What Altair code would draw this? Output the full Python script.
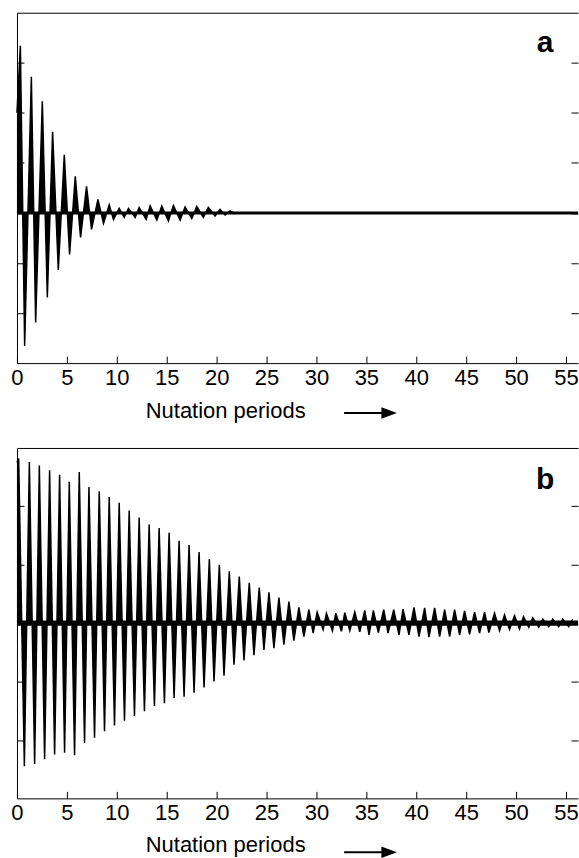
import altair as alt
import pandas as pd

# ---------------- data ----------------
X_TICKS = [0, 5, 10, 15, 20, 25, 30, 35, 40, 45, 50, 55]
X_MAX = 56.2

# panel a : extremes of the decaying oscillation (nutation periods, amplitude)
a_pos_t = [0.0, 0.34, 1.44, 2.54, 3.57, 4.74, 5.84, 6.97, 8.11, 9.24, 10.24, 11.17,
           12.24, 13.34, 14.51, 15.67, 16.84, 18.01, 19.17, 20.34, 21.34]
a_pos_v = [2.0, 3.34, 2.72, 2.23, 1.62, 1.16, 0.73, 0.53, 0.27, 0.16, 0.09, 0.09,
           0.11, 0.14, 0.14, 0.15, 0.12, 0.13, 0.11, 0.07, 0.04]
a_neg_t = [0.77, 1.87, 3.04, 4.14, 5.27, 6.37, 7.47, 8.67, 9.67, 10.74, 11.84, 12.94,
           14.01, 15.17, 16.34, 17.51, 18.67, 19.84, 20.84, 21.9]
a_neg_v = [-2.66, -2.19, -1.69, -1.14, -0.83, -0.49, -0.33, -0.21, -0.13, -0.09, -0.09, -0.13,
           -0.14, -0.16, -0.14, -0.11, -0.09, -0.06, -0.04, -0.02]
a_y_ticks = [-2, -1, 0, 1, 2, 3]
a_band = 0.03          # half thickness of the flat trace (amplitude units)

# panel b
b_pos_t = [0.0, 0.17, 1.24, 2.24, 3.27, 4.27, 5.24, 6.24, 7.21, 8.24, 9.24, 10.24, 11.24,
           12.24, 13.24, 14.24, 15.24, 16.24, 17.24, 18.24, 19.27, 20.27, 21.27, 22.27,
           23.27, 24.27, 25.24, 26.24, 27.24, 28.24, 29.24, 30.07, 31.0, 31.94, 32.84,
           33.84, 34.84, 35.7, 36.74, 37.74, 38.67, 39.77, 40.84, 41.84, 42.84, 43.84,
           44.84, 45.84, 46.84, 47.84, 48.84, 49.84, 50.74, 51.67, 52.67, 53.67, 54.67, 55.67]
b_pos_v = [2.75, 2.82, 2.76, 2.70, 2.62, 2.54, 2.42, 2.59, 2.33, 2.26, 2.16, 2.06, 1.93,
           1.81, 1.69, 1.63, 1.55, 1.41, 1.34, 1.22, 1.10, 1.00, 0.89, 0.80,
           0.69, 0.61, 0.53, 0.44, 0.37, 0.27, 0.23, 0.19, 0.17, 0.17, 0.18,
           0.19, 0.22, 0.22, 0.23, 0.23, 0.24, 0.27, 0.26, 0.26, 0.23, 0.23,
           0.21, 0.19, 0.19, 0.17, 0.14, 0.13, 0.11, 0.09, 0.07, 0.07, 0.07, 0.07]
b_neg_t = [0.74, 1.77, 2.77, 3.77, 4.77, 5.77, 6.77, 7.77, 8.77, 9.77, 10.77, 11.77, 12.77,
           13.77, 14.77, 15.74, 16.74, 17.74, 18.74, 19.74, 20.74, 21.74, 22.74, 23.74,
           24.74, 25.74, 26.74, 27.74, 28.74, 29.67, 30.67, 31.6, 32.5, 33.34, 34.34,
           35.27, 36.2, 37.17, 38.27, 39.27, 40.27, 41.27, 42.34, 43.34, 44.34, 45.34,
           46.34, 47.27, 48.34, 49.34, 50.34, 51.27, 52.27, 53.27, 54.27, 55.27]
b_neg_v = [-2.45, -2.41, -2.33, -2.25, -2.22, -2.26, -2.05, -1.96, -1.85, -1.75, -1.67, -1.59, -1.51,
           -1.42, -1.37, -1.28, -1.26, -1.19, -1.10, -1.00, -0.90, -0.71, -0.64, -0.55,
           -0.46, -0.43, -0.37, -0.30, -0.23, -0.17, -0.11, -0.13, -0.14, -0.13, -0.15,
           -0.20, -0.16, -0.17, -0.20, -0.20, -0.23, -0.24, -0.23, -0.23, -0.20, -0.19,
           -0.17, -0.16, -0.13, -0.11, -0.10, -0.07, -0.07, -0.06, -0.06, -0.06]
b_y_ticks = [-2, -1, 0, 1, 2]
b_band = 0.045

FONT = "Liberation Sans"
W = 562
H = 351


def series(pt, pv, nt, nv):
    df = pd.DataFrame({"t": list(pt) + list(nt), "v": list(pv) + list(nv)})
    return df.sort_values("t").reset_index(drop=True)


def panel(df, ydom, yticks, letter, letter_y, band, arrow_dy, title_y):
    xs = alt.Scale(domain=[0, X_MAX], nice=False, zero=False)
    ys = alt.Scale(domain=ydom, nice=False, zero=False)
    one = pd.DataFrame({"k": [0]})

    area = alt.Chart(df).mark_area(color="black", opacity=1).encode(
        x=alt.X("t:Q", scale=xs, axis=alt.Axis(
            orient="bottom", values=X_TICKS, domain=False, ticks=False, grid=False,
            labelFont=FONT, labelFontSize=22, labelColor="black", labelPadding=4,
            labelFlush=False, title="Nutation periods", titleFont=FONT,
            titleFontSize=22, titleFontWeight="normal", titleColor="black",
            titleAlign="left", titleAnchor="start", titleBaseline="alphabetic",
            titleX=128.5, titleY=title_y)),
        y=alt.Y("v:Q", scale=ys, stack=None, axis=alt.Axis(
            orient="right", offset=-W, values=yticks, labels=False, ticks=True,
            tickSize=7, tickColor="black", domain=True, domainColor="black",
            grid=False, title=None)),
        y2=alt.datum(0),
    )
    line = alt.Chart(df).mark_line(color="black", strokeWidth=1.5).encode(
        x=alt.X("t:Q", scale=xs, axis=alt.Axis(
            orient="top", offset=-H, values=X_TICKS, labels=False, ticks=True,
            tickSize=7, tickColor="black", domain=True, domainColor="black",
            grid=False, title=None)),
        y=alt.Y("v:Q", scale=ys, axis=alt.Axis(
            orient="left", offset=-W, values=yticks, labels=False, ticks=True,
            tickSize=7, tickColor="black", domain=False, grid=False, title=None)),
    )
    zero = alt.Chart(one).mark_rect(color="black", opacity=1).encode(
        x=alt.X(datum=0, scale=xs, axis=alt.Axis(
            orient="top", domain=True, domainColor="black", ticks=False,
            labels=False, grid=False, title=None)),
        x2=alt.datum(X_MAX),
        y=alt.Y(datum=-band, scale=ys, axis=None),
        y2=alt.datum(band),
    )
    label = alt.Chart(one).mark_text(
        text=letter, font=FONT, fontSize=30, fontWeight="bold", color="black",
        align="center", baseline="alphabetic").encode(
        x=alt.value(529), y=alt.value(letter_y))
    shaft = alt.Chart(one).mark_rule(color="black", strokeWidth=2).encode(
        x=alt.value(327.7), x2=alt.value(368), y=alt.value(H + arrow_dy))
    head = alt.Chart(one).mark_point(
        shape="M-1,-0.75L1,0L-1,0.75Z", filled=True, color="black", opacity=1,
        size=243, strokeWidth=0).encode(
        x=alt.value(372.8), y=alt.value(H + arrow_dy))
    return alt.layer(area, line, zero, label, shaft, head).resolve_axis(
        x="independent", y="independent").properties(width=W, height=H)


dfa = series(a_pos_t, a_pos_v, a_neg_t, a_neg_v)
dfb = series(b_pos_t, b_pos_v, b_neg_t, b_neg_v)

pa = panel(dfa, [-3, 4], a_y_ticks, "a", 39, a_band, 50, 54)
pb = panel(dfb, [-3, 3], b_y_ticks, "b", 41, b_band, 54, 53.3)

chart = alt.vconcat(pa, pb, spacing=27).properties(
    padding={"left": 10, "top": 12, "right": 0, "bottom": 0},
    background="white",
).configure_view(stroke=None)

chart.save("out.html", embed_options={"renderer": "svg", "actions": False})
